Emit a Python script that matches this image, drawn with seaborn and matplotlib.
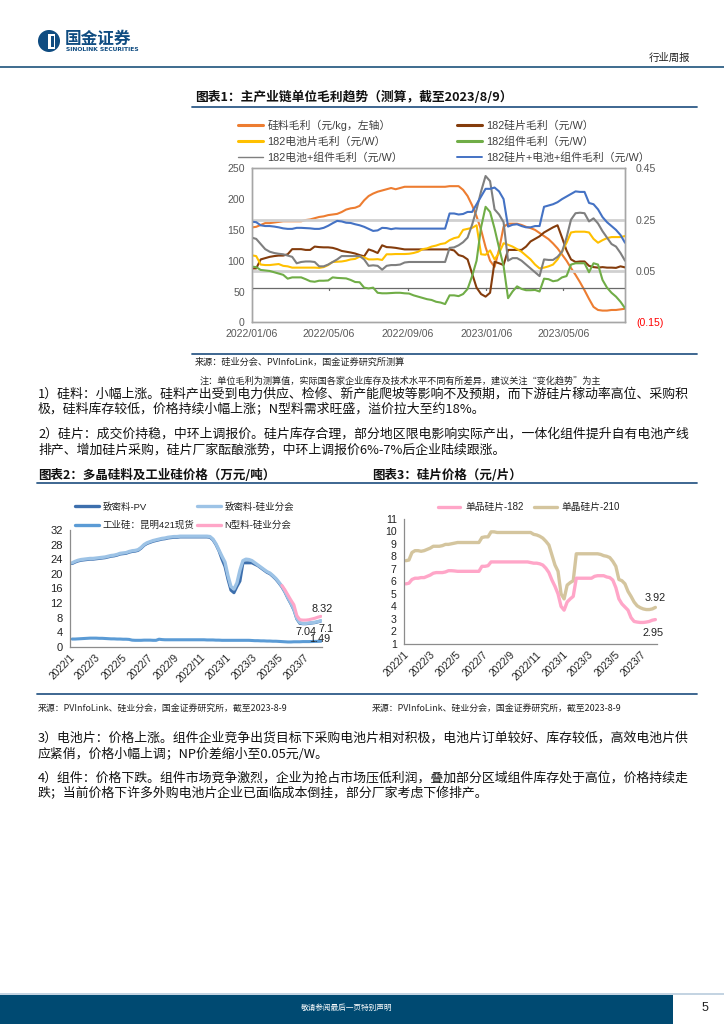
import numpy as np
import pandas as pd
import matplotlib
matplotlib.use('Agg')
import matplotlib.pyplot as plt
from matplotlib.lines import Line2D
from matplotlib.patches import Rectangle, Circle
import seaborn as sns

sns.set_theme(style='white')
plt.rcParams['font.family'] = ['Liberation Sans', 'Noto Sans CJK SC']
plt.rcParams['axes.unicode_minus'] = False
CJK = ['Noto Sans CJK SC', 'DejaVu Sans']

# ---------------- data ----------------
weeks = pd.date_range('2022-01-06', periods=84, freq='7D')

# chart 1 (left axis: 元/kg ; right axis: 元/W)
si_material = [154,155,158,161,161,162,163,164,164,164,
               164,164,166,167,169,171,172,174,175,176,
               179,183,185,186,189,198,205,209,212,214,
               216,218,216,218,220,220,220,220,220,220,
               220,220,220,220,221,221,221,215,205,190,
               172,150,122,100,90,118,155,160,160,160,
               158,155,153,150,145,140,135,128,120,110,
               100,88,77,65,52,38,25,20,19,19,
               20,20,21,22]
wafer_cell_module = [0.242,0.240,0.228,0.225,0.225,0.223,0.220,0.216,0.214,0.214,
                     0.218,0.218,0.217,0.216,0.214,0.214,0.218,0.226,0.236,0.245,
                     0.243,0.238,0.237,0.232,0.228,0.222,0.214,0.206,0.208,0.218,
                     0.217,0.213,0.216,0.215,0.215,0.215,0.215,0.215,0.215,0.215,
                     0.215,0.215,0.215,0.215,0.274,0.274,0.270,0.272,0.280,0.280,
                     0.310,0.340,0.370,0.370,0.375,0.360,0.330,0.223,0.230,0.232,
                     0.225,0.220,0.220,0.225,0.225,0.300,0.305,0.310,0.318,0.330,
                     0.340,0.350,0.360,0.358,0.358,0.315,0.310,0.290,0.260,0.240,
                     0.225,0.210,0.190,0.160]
cell_module = [0.180,0.175,0.155,0.135,0.125,0.120,0.117,0.115,0.110,0.105,
               0.080,0.085,0.087,0.087,0.085,0.068,0.068,0.075,0.085,0.095,
               0.108,0.108,0.108,0.108,0.108,0.095,0.070,0.072,0.070,0.055,
               0.070,0.073,0.073,0.075,0.083,0.085,0.085,0.085,0.085,0.085,
               0.085,0.085,0.085,0.085,0.140,0.142,0.150,0.162,0.180,0.230,
               0.290,0.360,0.420,0.400,0.290,0.270,0.240,0.090,0.100,0.100,
               0.090,0.075,0.060,0.045,0.030,0.095,0.093,0.093,0.105,0.125,
               0.180,0.250,0.275,0.277,0.275,0.243,0.255,0.235,0.205,0.180,
               0.155,0.145,0.120,0.090]
wafer = [0.060,0.060,0.095,0.100,0.105,0.108,0.110,0.110,0.115,0.135,
         0.135,0.135,0.132,0.132,0.145,0.143,0.142,0.142,0.140,0.135,
         0.128,0.125,0.122,0.118,0.112,0.107,0.134,0.128,0.120,0.150,
         0.143,0.142,0.140,0.137,0.134,0.134,0.134,0.134,0.134,0.134,
         0.134,0.134,0.134,0.134,0.134,0.130,0.112,0.107,0.095,0.040,
         -0.015,-0.040,-0.050,-0.035,0.086,0.080,0.073,0.132,0.132,0.132,
         0.132,0.145,0.165,0.175,0.185,0.200,0.210,0.220,0.228,0.180,
         0.130,0.095,0.085,0.087,0.087,0.070,0.065,0.063,0.065,0.063,
         0.063,0.062,0.068,0.064]
cell = [0.111,0.108,0.075,0.073,0.073,0.075,0.077,0.070,0.068,0.063,
        0.063,0.063,0.063,0.063,0.063,0.062,0.065,0.073,0.085,0.086,
        0.087,0.090,0.095,0.097,0.106,0.103,0.095,0.095,0.096,0.093,
        0.115,0.115,0.116,0.116,0.116,0.117,0.120,0.125,0.135,0.138,
        0.145,0.149,0.155,0.158,0.170,0.178,0.182,0.210,0.214,0.218,
        0.228,0.115,0.113,0.130,0.095,0.120,0.158,0.152,0.145,0.135,
        0.125,0.110,0.095,0.075,0.060,0.063,0.068,0.075,0.095,0.125,
        0.160,0.200,0.203,0.203,0.203,0.200,0.175,0.160,0.170,0.178,
        0.182,0.182,0.182,0.186]
module = [0.067,0.065,0.054,0.052,0.050,0.045,0.040,0.035,0.020,0.025,
          0.025,0.025,0.018,0.010,0.008,0.012,0.012,0.013,0.025,0.023,
          0.022,0.021,0.015,0.007,0.006,-0.015,-0.018,-0.015,-0.035,-0.037,
          -0.037,-0.036,-0.035,-0.035,-0.037,-0.038,-0.045,-0.050,-0.055,-0.060,
          -0.063,-0.070,-0.073,-0.079,-0.045,-0.045,-0.048,-0.040,-0.020,0.030,
          0.090,0.220,0.300,0.280,0.215,0.140,0.070,-0.056,-0.030,-0.010,
          -0.020,-0.025,-0.025,-0.024,-0.030,0.020,0.018,0.010,0.013,0.025,
          0.030,0.075,0.080,0.080,0.080,0.045,0.080,0.075,0.015,-0.015,
          -0.035,-0.050,-0.070,-0.095]

# chart 2 (万元/吨)
dense_sia = [23.0,23.4,23.7,23.9,24.0,24.1,24.2,24.2,24.3,24.4,
             24.5,24.6,24.8,25.0,25.1,25.3,25.6,25.7,25.8,26.1,
             26.3,26.4,26.6,27.2,28.0,28.5,28.8,29.1,29.3,29.5,
             29.7,29.8,30.0,30.1,30.2,30.2,30.3,30.3,30.3,30.3,
             30.3,30.3,30.3,30.3,30.3,30.3,30.2,29.5,28.2,26.5,
             24.8,23.2,19.5,16.5,15.8,17.5,21.0,23.6,24.0,23.9,
             23.6,23.0,22.4,21.8,21.2,20.6,20.2,19.5,18.7,17.7,
             16.6,15.2,13.5,12.0,10.3,7.8,6.6,6.4,6.4,6.5,
             6.6,6.7,6.9,7.1]
dense_pv = [22.8,23.2,23.5,23.7,23.8,23.9,24.0,24.0,24.1,24.2,
            24.3,24.4,24.6,24.8,24.9,25.1,25.4,25.5,25.6,25.9,
            26.1,26.2,26.4,27.0,27.8,28.3,28.6,28.9,29.1,29.3,
            29.5,29.6,29.8,29.9,30.0,30.0,30.1,30.1,30.1,30.1,
            30.1,30.1,30.1,30.1,30.1,30.1,30.0,29.3,28.0,26.3,
            24.0,22.0,18.5,15.5,14.8,16.5,18.0,23.0,23.0,23.0,
            23.0,22.6,22.2,21.6,21.0,20.4,20.0,19.3,18.5,17.5,
            16.4,15.0,13.3,11.8,10.1,7.6,6.4,6.3,6.3,6.4,
            6.5,6.6,6.8,7.04]
ntype_sia = [16.8,15.6,14.2,12.8,11.5,8.5,7.4,7.3,7.3,7.4,7.6,7.8,8.1,8.32]
industrial_si = [2.10,2.10,2.15,2.20,2.25,2.30,2.35,2.35,2.35,2.30,
                 2.30,2.25,2.20,2.15,2.15,2.10,2.10,2.05,2.05,2.00,
                 1.80,1.75,1.75,1.75,1.80,1.80,1.80,1.75,1.75,2.05,
                 1.95,1.90,1.90,1.90,1.90,1.90,1.90,1.90,1.90,1.90,
                 1.90,1.90,1.90,1.90,1.90,1.85,1.85,1.85,1.80,1.80,
                 1.75,1.75,1.75,1.75,1.75,1.75,1.75,1.75,1.75,1.75,
                 1.70,1.65,1.65,1.60,1.60,1.55,1.55,1.50,1.50,1.45,
                 1.40,1.35,1.30,1.30,1.35,1.35,1.35,1.40,1.40,1.40,
                 1.42,1.45,1.47,1.49]

# chart 3 (元/片)
wafer_210 = [7.65,7.70,8.30,8.45,8.45,8.40,8.45,8.55,8.65,8.80,
             8.80,8.80,8.85,8.95,8.95,9.00,9.05,9.10,9.10,9.10,
             9.10,9.10,9.10,9.10,9.10,9.50,9.55,9.55,9.95,9.95,
             9.90,9.90,9.90,9.90,9.90,9.90,9.90,9.90,9.90,9.90,
             9.90,9.90,9.75,9.70,9.60,9.45,9.20,8.90,8.10,7.30,
             6.80,5.00,4.60,5.70,5.90,6.05,8.20,8.20,8.20,8.20,
             8.20,8.20,8.20,8.20,8.15,8.05,8.00,7.90,7.60,7.20,
             6.15,6.05,5.80,5.20,4.80,4.35,4.05,3.90,3.80,3.75,
             3.75,3.80,3.92]
wafer_182 = [5.80,5.85,6.15,6.25,6.25,6.30,6.30,6.40,6.50,6.65,
             6.70,6.70,6.70,6.75,6.85,6.85,6.83,6.80,6.80,6.80,
             6.80,6.80,6.80,6.80,6.80,7.20,7.20,7.25,7.55,7.55,
             7.55,7.55,7.55,7.55,7.55,7.55,7.55,7.55,7.55,7.55,
             7.55,7.50,7.45,7.45,7.40,7.30,7.05,6.70,6.10,5.60,
             5.00,4.00,3.70,4.35,4.60,4.80,6.25,6.25,6.25,6.25,
             6.25,6.25,6.40,6.45,6.45,6.45,6.35,6.30,6.10,5.50,
             4.60,4.20,3.95,3.70,3.10,2.80,2.75,2.72,2.72,2.75,
             2.80,2.90,2.95]

c1_xticks = ['2022-01-06', '2022-05-06', '2022-09-06', '2023-01-06', '2023-05-06']
c1_xlabels = ['2022/01/06', '2022/05/06', '2022/09/06', '2023/01/06', '2023/05/06']
c1_right_ticks = [-0.15, 0.05, 0.25, 0.45]
c1_right_labels = ['(0.15)', '0.05', '0.25', '0.45']
c23_xticks = ['2022-01-01', '2022-03-01', '2022-05-01', '2022-07-01', '2022-09-01',
              '2022-11-01', '2023-01-01', '2023-03-01', '2023-05-01', '2023-07-01']
c23_xlabels = ['2022/1', '2022/3', '2022/5', '2022/7', '2022/9',
               '2022/11', '2023/1', '2023/3', '2023/5', '2023/7']

# ---------------- figure ----------------
W, H = 724, 1024
fig = plt.figure(figsize=(7.24, 10.24), dpi=100)

def box(l, t, r, b):
    return [l / W, 1 - b / H, (r - l) / W, (b - t) / H]

# overlay in pixel coordinates for page decoration
ov = fig.add_axes([0, 0, 1, 1])
ov.set_xlim(0, W)
ov.set_ylim(H, 0)
ov.axis('off')

# header
ov.add_patch(Circle((49, 41), 11, color='#0F4C81', lw=0))
ov.add_patch(Rectangle((48, 34), 7, 15, color='white', lw=0))
ov.add_patch(Rectangle((50.5, 36), 3, 11, color='#0F4C81', lw=0))
ov.text(65, 38.5, '国金证券', fontsize=12, fontweight='bold', color='#0F4C81', va='center', ha='left', family=CJK)
ov.text(66, 49.5, 'SINOLINK SECURITIES', fontsize=4.3, fontweight='bold', color='#0F4C81', va='center', ha='left', family=['DejaVu Sans'])
ov.text(690, 58, '行业周报', fontsize=7.5, color='#222222', va='center', ha='right', family=CJK)
ov.plot([0, 724], [67, 67], color='#3E6B8E', lw=1.4)

# chart 1 title
ov.text(195, 97, '图表1：主产业链单位毛利趋势（测算，截至2023/8/9）', fontsize=9.2, fontweight='bold',
        color='#111111', va='center', ha='left', family=CJK)
ov.plot([192, 697], [107, 107], color='#2E5B88', lw=1.3)
ov.plot([192, 697], [354, 354], color='#2E5B88', lw=1.3)
ov.text(195, 362, '来源：硅业分会、PVInfoLink，国金证券研究所测算', fontsize=6.6, color='#222222',
        va='center', ha='left', family=CJK)
ov.text(200, 381, '注：单位毛利为测算值，实际国各家企业库存及技术水平不同有所差异，建议关注“变化趋势”为主',
        fontsize=6.6, color='#222222', va='center', ha='left', family=CJK)

body = [
    (394, '1）硅料：小幅上涨。硅料产出受到电力供应、检修、新产能爬坡等影响不及预期，而下游硅片稼动率高位、采购积'),
    (410, '极，硅料库存较低，价格持续小幅上涨；N型料需求旺盛，溢价拉大至约18%。'),
    (434, '2）硅片：成交价持稳，中环上调报价。硅片库存合理，部分地区限电影响实际产出，一体化组件提升自有电池产线'),
    (450, '排产、增加硅片采购，硅片厂家酝酿涨势，中环上调报价6%-7%后企业陆续跟涨。'),
    (738, '3）电池片：价格上涨。组件企业竞争出货目标下采购电池片相对积极，电池片订单较好、库存较低，高效电池片供'),
    (754, '应紧俏，价格小幅上调；NP价差缩小至0.05元/W。'),
    (778, '4）组件：价格下跌。组件市场竞争激烈，企业为抢占市场压低利润，叠加部分区域组件库存处于高位，价格持续走'),
    (794, '跌；当前价格下许多外购电池片企业已面临成本倒挂，部分厂家考虑下修排产。'),
]
for yy, t in body:
    ov.text(38, yy, t, fontsize=9.3, color='#111111', va='center', ha='left', family=CJK)

ov.text(38, 475, '图表2：多晶硅料及工业硅价格（万元/吨）', fontsize=9.0, fontweight='bold', color='#111111',
        va='center', ha='left', family=CJK)
ov.text(372, 475, '图表3：硅片价格（元/片）', fontsize=9.0, fontweight='bold', color='#111111',
        va='center', ha='left', family=CJK)
ov.plot([37, 697], [483, 483], color='#2E5B88', lw=1.3)
ov.plot([37, 697], [694, 694], color='#2E5B88', lw=1.3)
ov.text(38, 709, '来源：PVInfoLink、硅业分会，国金证券研究所，截至2023-8-9', fontsize=6.4, color='#222222',
        va='center', ha='left', family=CJK)
ov.text(372, 709, '来源：PVInfoLink、硅业分会，国金证券研究所，截至2023-8-9', fontsize=6.4, color='#222222',
        va='center', ha='left', family=CJK)

# footer
ov.plot([0, 724], [994, 994], color='#B9CCDD', lw=1.2)
ov.add_patch(Rectangle((0, 995), 673, 29, color='#004A72', lw=0))
ov.text(347, 1008, '敬请参阅最后一页特别声明', fontsize=5.5, color='white', va='center', ha='center', family=CJK)
ov.text(705, 1008, '5', fontsize=9, color='#222222', va='center', ha='center')

# ---------------- chart 1 ----------------
c_orange, c_brown, c_yellow = '#ED7D31', '#843C0C', '#FFC000'
c_green, c_gray, c_blue = '#70AD47', '#7F7F7F', '#4472C4'
tick_gray = '#595959'

ax1 = fig.add_axes(box(251.7, 168.3, 625, 322.3))
ax1r = ax1.twinx()
df1 = pd.DataFrame({'date': weeks, 'si': si_material, 'wcm': wafer_cell_module, 'cm': cell_module,
                    'wafer': wafer, 'cell': cell, 'module': module})
lw1 = 1.5
sns.lineplot(data=df1, x='date', y='si', ax=ax1, color=c_orange, lw=lw1)
ax1r.axhline(0.25, color='#D0D0D0', lw=2.0, zorder=0)
ax1r.axhline(0.05, color='#D0D0D0', lw=2.0, zorder=0)
ax1r.axhline(-0.016, color='#6A6A6A', lw=0.9, zorder=0)
for d in c1_xticks:
    ax1r.plot([pd.Timestamp(d)] * 2, [-0.016, -0.026], color='#6A6A6A', lw=0.9)
sns.lineplot(data=df1, x='date', y='wafer', ax=ax1r, color=c_brown, lw=lw1)
sns.lineplot(data=df1, x='date', y='cell', ax=ax1r, color=c_yellow, lw=lw1)
sns.lineplot(data=df1, x='date', y='module', ax=ax1r, color=c_green, lw=lw1)
sns.lineplot(data=df1, x='date', y='cm', ax=ax1r, color=c_gray, lw=lw1)
sns.lineplot(data=df1, x='date', y='wcm', ax=ax1r, color=c_blue, lw=lw1)

ax1.set_xlim(pd.Timestamp('2022-01-06'), pd.Timestamp('2023-08-10'))
ax1.set_ylim(0, 250)
ax1.set_yticks(range(0, 251, 50))
ax1r.set_ylim(-0.15, 0.45)
ax1r.set_yticks(c1_right_ticks)
ax1r.set_yticklabels(c1_right_labels)
ax1.set_xticks([pd.Timestamp(d) for d in c1_xticks])
ax1.set_xticklabels(c1_xlabels)
for a in (ax1, ax1r):
    a.set_xlabel('')
    a.set_ylabel('')
    a.patch.set_visible(False)
    for s in a.spines.values():
        s.set_color('#A6A6A6')
        s.set_linewidth(1.0)
ax1.tick_params(axis='both', length=0, labelsize=7.6, colors=tick_gray, pad=5)
ax1r.tick_params(axis='y', length=0, labelsize=7.6, colors=tick_gray, pad=8)
for lab in ax1r.get_yticklabels():
    if lab.get_text().startswith('('):
        lab.set_color('#FF0000')

h1 = [Line2D([], [], color=c, lw=2.2) for c in (c_orange, c_yellow, c_gray, c_brown, c_green, c_blue)]
h1[2].set_linewidth(1.0)
h1[5].set_linewidth(1.4)
l1 = ['硅料毛利（元/kg，左轴）', '182电池片毛利（元/W）', '182电池+组件毛利（元/W）',
      '182硅片毛利（元/W）', '182组件毛利（元/W）', '182硅片+电池+组件毛利（元/W）']
fig.legend(h1, l1, loc='upper left', bbox_to_anchor=(238 / W, 1 - 120 / H), ncol=2, frameon=False,
           fontsize=7.8, handlelength=2.3, handletextpad=0.4, columnspacing=5.0, labelspacing=0.46,
           borderpad=0, borderaxespad=0, labelcolor='#404040')

# ---------------- chart 2 ----------------
c_pv, c_sia, c_ind, c_n = '#3D6FAD', '#9DC3E6', '#5B9BD5', '#FFA6C8'
ax2 = fig.add_axes(box(70, 530, 321.7, 646.7))
df2 = pd.DataFrame({'date': weeks, 'pv': dense_pv, 'sia': dense_sia, 'ind': industrial_si})
dfn = pd.DataFrame({'date': weeks[70:], 'n': ntype_sia})
sns.lineplot(data=df2, x='date', y='pv', ax=ax2, color=c_pv, lw=2.2)
sns.lineplot(data=df2, x='date', y='sia', ax=ax2, color=c_sia, lw=2.4)
sns.lineplot(data=dfn, x='date', y='n', ax=ax2, color=c_n, lw=2.2)
sns.lineplot(data=df2, x='date', y='ind', ax=ax2, color=c_ind, lw=2.2)
ax2.set_xlim(pd.Timestamp('2022-01-01'), pd.Timestamp('2023-08-12'))
ax2.set_ylim(0, 32)
ax2.set_yticks(range(0, 33, 4))
ax2.set_xticks([pd.Timestamp(d) for d in c23_xticks])
ax2.set_xticklabels(c23_xlabels, rotation=45, ha='right', rotation_mode='anchor')
last = weeks[-1]
ax2.annotate(f'{ntype_sia[-1]:.2f}', (last, ntype_sia[-1]), xytext=(1, 1.5), textcoords='offset points',
             ha='center', va='bottom', fontsize=7.8, color='#222222')
ax2.annotate(f'{dense_sia[-1]:g}', (last, dense_sia[-1]), xytext=(3.5, -2), textcoords='offset points',
             ha='center', va='top', fontsize=7.8, color='#222222')
ax2.annotate(f'{dense_pv[-1]:.2f}', (last, dense_pv[-1]), xytext=(-11, -4), textcoords='offset points',
             ha='center', va='top', fontsize=7.8, color='#222222')
ax2.annotate(f'{industrial_si[-1]:.2f}', (last, industrial_si[-1]), xytext=(-1, 1.5), textcoords='offset points',
             ha='center', va='center', fontsize=7.8, color='#222222')

# ---------------- chart 3 ----------------
c_182, c_210 = '#FFA6C8', '#D4C59E'
ax3 = fig.add_axes(box(403.7, 518.7, 656.7, 644))
df3 = pd.DataFrame({'date': weeks[:83], 'w182': wafer_182, 'w210': wafer_210})
sns.lineplot(data=df3, x='date', y='w210', ax=ax3, color=c_210, lw=2.4)
sns.lineplot(data=df3, x='date', y='w182', ax=ax3, color=c_182, lw=2.4)
ax3.set_xlim(pd.Timestamp('2022-01-01'), pd.Timestamp('2023-08-06'))
ax3.set_ylim(1, 11)
ax3.set_yticks(range(1, 12))
ax3.set_xticks([pd.Timestamp(d) for d in c23_xticks])
ax3.set_xticklabels(c23_xlabels, rotation=45, ha='right', rotation_mode='anchor')
l3 = weeks[82]
ax3.annotate(f'{wafer_210[-1]:.2f}', (l3, wafer_210[-1]), xytext=(0, 3), textcoords='offset points',
             ha='center', va='bottom', fontsize=7.8, color='#222222')
ax3.annotate(f'{wafer_182[-1]:.2f}', (l3, wafer_182[-1]), xytext=(-2, -6), textcoords='offset points',
             ha='center', va='top', fontsize=7.8, color='#222222')

for a, ls in ((ax2, 8.0), (ax3, 7.6)):
    a.set_xlabel('')
    a.set_ylabel('')
    a.patch.set_visible(False)
    for k in ('top', 'right'):
        a.spines[k].set_visible(False)
    for k in ('left', 'bottom'):
        a.spines[k].set_color('#8C8C8C')
        a.spines[k].set_linewidth(0.9)
    a.tick_params(axis='both', length=3, width=0.8, color='#8C8C8C', labelsize=ls, colors='#222222', pad=2)
    a.tick_params(axis='x', labelsize=7.3, pad=1)

h2 = [Line2D([], [], color=c, lw=2.4) for c in (c_pv, c_ind, c_sia, c_n)]
l2 = ['致密料-PV', '工业硅：昆明421现货', '致密料-硅业分会', 'N型料-硅业分会']
fig.legend(h2, l2, loc='upper left', bbox_to_anchor=(75 / W, 1 - 502 / H), ncol=2, frameon=False,
           fontsize=6.8, handlelength=2.5, handletextpad=0.4, columnspacing=0.3, labelspacing=0.95,
           borderpad=0, borderaxespad=0, labelcolor='#222222')

h3 = [Line2D([], [], color=c, lw=2.4) for c in (c_182, c_210)]
l3l = ['单品硅片-182', '单晶硅片-210']
fig.legend(h3, l3l, loc='upper left', bbox_to_anchor=(438 / W, 1 - 502 / H), ncol=2, frameon=False,
           fontsize=7.0, handlelength=2.3, handletextpad=0.5, columnspacing=1.1,
           borderpad=0, borderaxespad=0, labelcolor='#222222')

fig.savefig('out.png', dpi=100)
